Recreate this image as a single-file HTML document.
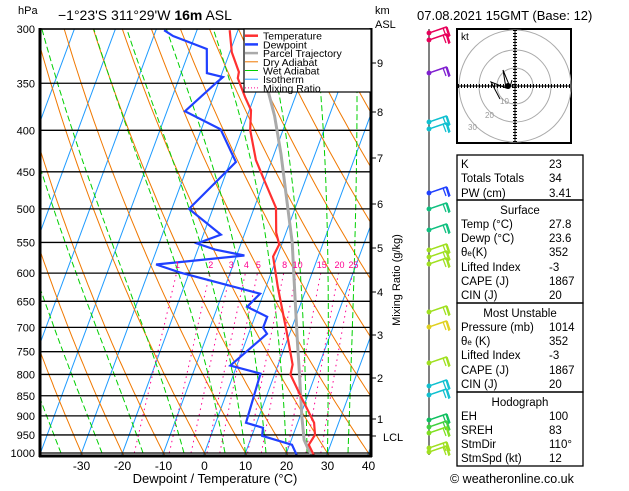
<!DOCTYPE html>
<html><head><meta charset="utf-8"><style>
body{margin:0;background:#fff;width:629px;height:486px;overflow:hidden;font-family:"Liberation Sans",sans-serif}
svg text{font-family:"Liberation Sans",sans-serif}
</style></head><body>
<svg id="c" width="629" height="486" xmlns="http://www.w3.org/2000/svg">
<defs><clipPath id="clip"><rect x="41" y="29" width="329" height="426"/></clipPath></defs>
<g id="bg" clip-path="url(#clip)"></g>
<g id="plines"></g>
<g id="series" clip-path="url(#clip)"></g>
<g id="axes"></g>
<g id="right"></g>
</svg>
<script>
// ---- data ----
const tempP=[301,320.5,339,344.9,364.1,377.8,399.8,435.2,463.2,498.4,534.8,553.2,572.4,624.2,707.2,778,800.5,852.8,917.8,949.5,977,1019];
const tempT=[-32,-29.5,-26,-25.7,-22.2,-19.6,-18,-13.9,-9.7,-4.7,-2.4,-0.6,-1,2.9,9,13.5,13.9,18.5,24,25.3,24.7,27.8];
const dewP=[301,306,317.5,340,343.9,349.8,378.9,398.8,437.7,500,537.9,551.7,561.2,570.8,585.6,599.1,636.2,660.3,679.3,700.9,712.9,780.2,798.1,917.8,930.9,952.2,977,1019];
const dewT=[-48,-45.3,-35.9,-33.7,-29.4,-30.6,-35.6,-25.3,-18.6,-25.8,-15.7,-20.7,-15.8,-8.1,-28.8,-22.2,-0.8,-2.8,3,3,4.5,-1.6,6.5,7.4,12,12.5,20.6,23.6];
const parcelP=[1019,993.7,963.3,900.4,800.5,728.6,635.3,550,475.8,428,384.1,358];
const parcelT=[27.8,25.3,23.1,20.4,16.1,12.6,7.6,2.4,-3.8,-8.3,-13.3,-17.1];
const pressureTicks=[300,350,400,450,500,550,600,650,700,750,800,850,900,950,1000];
const tempTicks=[-30,-20,-10,0,10,20,30,40];
const isotherms=[-80,-70,-60,-50,-40,-30,-20,-10,0,10,20,30,40];
const dryTheta=[-40,-30,-20,-10,0,10,20,30,40,50,60,70,80,90,100,110,120];
const wetTheta=[-35,-25,-15,-5,5,10,15,20,25,30,35];
const mixRatios=[1,2,3,4,5,8,10,15,20,25];
const kmLabels=[1,2,3,4,5,6,7,8,9];
const kmY=[419,378,335,292,248,204,158,112,63];

const NS='http://www.w3.org/2000/svg';
const X0=204.5,SC=4.1,SK=0.37,YB=453;
function py(p){return 29+424*Math.log(p/300)/Math.log(1000/300);}
function tx(T,p){return X0+SC*T+SK*(YB-py(p));}
function el(tag,attrs,parent){const e=document.createElementNS(NS,tag);for(const k in attrs)e.setAttribute(k,attrs[k]);parent.appendChild(e);return e;}
function poly(pts,stroke,w,dash,parent,name){
  const e=el('polyline',{points:pts.map(q=>tx(q[1],q[0]).toFixed(1)+','+py(q[0]).toFixed(1)).join(' '),fill:'none',stroke:stroke,'stroke-width':w},parent);
  if(dash)e.setAttribute('stroke-dasharray',dash);
  
  
  return e;}
const bg=document.getElementById('bg'),ser=document.getElementById('series'),ax=document.getElementById('axes'),pl=document.getElementById('plines'),rt=document.getElementById('right');
// isotherms
isotherms.forEach(T=>{poly([[1050,T],[290,T]],'#1e9bff',1,null,bg,'isotherm-line');});
// dry adiabats
dryTheta.forEach(th=>{const pts=[];for(let p=1050;p>=290;p-=10){pts.push([p,(th+273.15)*Math.pow(p/1000,0.286)-273.15]);}poly(pts,'#f07800',1,null,bg,'dry-adiabat');});
// wet adiabats
wetTheta.forEach(t0=>{const pts=[];let T=t0+273.15;
  let Td=T;for(let p=1000;p<1050;p+=5){}
  for(let p=1000;p>=290;p-=5){pts.push([p,T-273.15]);const es=6.112*Math.exp(17.67*(T-273.15)/(T-29.65));const rs=0.622*es/(p-es);
    const d=(287*T+2.5e6*rs)/(p*(1004+2.5e6*2.5e6*rs*0.622/(287*T*T)));T-=d*5;}
  poly(pts,'#00d000',1,'6,3',bg,'wet-adiabat');});
// mixing ratio
mixRatios.forEach(w=>{const pts=[];for(let p=1000;p>=600;p-=20){const e=w*p/(622+w);const l=Math.log(e/6.112);pts.push([p,243.5*l/(17.67-l)]);}
  poly(pts,'#ff0090',1,'1.5,4',bg,'mixing-ratio-line');
  const l=Math.log(w*600/(622+w)/6.112);const T=243.5*l/(17.67-l);
  const t=el('text',{x:tx(T,600)+1,y:py(600)-5,'font-size':9,fill:'#ff0090','text-anchor':'middle'},ax);t.textContent=w;
  });
// pressure lines & labels
pressureTicks.forEach(p=>{const y=py(p);const l=el('line',{x1:40,x2:371,y1:y,y2:y,stroke:'#000','stroke-width':1.3},pl);
  
  const t=el('text',{x:35,y:y+4,'font-size':11,'text-anchor':'end'},ax);t.textContent=p;
  });
// series
poly(parcelP.map((p,i)=>[p,parcelT[i]]),'#aaaaaa',3,null,ser,'parcel-trajectory');
poly(dewP.map((p,i)=>[p,dewT[i]]),'#2040ff',2.2,null,ser,'dewpoint-line');
poly(tempP.map((p,i)=>[p,tempT[i]]),'#ff3030',2.2,null,ser,'temperature-line');
// frame
[[40,28,40,457,3],[371,28,371,457,3],[39,456,372,456,3],[39,29,372,29,1.5]].forEach(a=>{const l=el('line',{x1:a[0],y1:a[1],x2:a[2],y2:a[3],stroke:'#000','stroke-width':a[4]},ax);
  });
tempTicks.forEach(T=>{const x=X0+SC*T;const t=el('text',{x:x,y:470,'font-size':12,'text-anchor':'middle'},ax);t.textContent=T;
  });
kmLabels.forEach((k,i)=>{const y=kmY[i];el('line',{x1:371,x2:376,y1:y,y2:y,stroke:'#000'},ax);
  const t=el('text',{x:377,y:y+4,'font-size':11},ax);t.textContent=k;});
el('line',{x1:371,x2:376,y1:436,y2:436,stroke:'#000'},ax);
// legend
const lg=el('g',{},ax);
el('rect',{x:244,y:29,width:127,height:63,fill:'#fff',stroke:'#000','stroke-width':1.2},lg);
const leg=[['Temperature','#ff3030',2.5,null],['Dewpoint','#2040ff',2.5,null],['Parcel Trajectory','#aaaaaa',2.5,null],['Dry Adiabat','#f07800',1,null],['Wet Adiabat','#00d000',1,null],['Isotherm','#1e9bff',1,null],['Mixing Ratio','#ff0090',1,'1,2']];
leg.forEach((e,i)=>{const y=35.7+i*8.7;const l=el('line',{x1:245,x2:258,y1:y,y2:y,stroke:e[1],'stroke-width':e[2]},lg);if(e[3])l.setAttribute('stroke-dasharray',e[3]);
  const t=el('text',{x:263,y:y+4,'font-size':10.5},lg);t.textContent=e[0];});
// wind barbs
const barbY=[33,40,73,122,129,193,209,230,250,257,264,312,327,363,386,395,420,427,433,448,452];
const barbC=['#e8005a','#e8005a','#8020d0','#10c0d0','#10c0d0','#2040ff','#10c080','#10c080','#a0e020','#a0e020','#a0e020','#a0e020','#e0d020','#a0e020','#10c0d0','#10c0d0','#10c060','#40d040','#80e020','#a0e020','#a0e020'];
el('line',{x1:429,x2:429,y1:29,y2:455,stroke:'#000','stroke-width':1},rt);
barbY.forEach((y,i)=>{const g=el('g',{stroke:barbC[i],'stroke-width':1.3,fill:'none'},rt);
  el('circle',{cx:429,cy:y,r:1.8,fill:barbC[i]},g);el('polyline',{points:`429,${y} 446,${y-6} 449,${y+4} M`,},g);el('line',{x1:429,y1:y,x2:447,y2:y-6},g);el('line',{x1:447,y1:y-6,x2:450,y2:y+3},g);el('line',{x1:443,y1:y-5,x2:446,y2:y+3},g);});
</script>
<!-- static text -->
<div style="position:absolute;left:0;top:0;width:629px;height:486px;pointer-events:none">
<svg width="629" height="486" style="position:absolute;left:0;top:0" xmlns="http://www.w3.org/2000/svg">
<text x="18" y="14" font-size="11">hPa</text>
<text x="58" y="20" font-size="14">−1°23'S  311°29'W  <tspan font-weight="bold">16m</tspan>  ASL</text>
<text x="375" y="14" font-size="11">km</text>
<text x="375" y="28" font-size="11">ASL</text>
<text x="383" y="441" font-size="11">LCL</text>
<text x="400" y="280" font-size="11" text-anchor="middle" transform="rotate(-90 400 280)">Mixing Ratio (g/kg)</text>
<text x="215" y="483" font-size="13" text-anchor="middle">Dewpoint / Temperature (°C)</text>
<text x="417" y="20" font-size="13">07.08.2021  15GMT  (Base: 12)</text>
<g>
<rect x="457" y="29" width="114" height="114" fill="#fff" stroke="#000" stroke-width="2"/>
<circle cx="515" cy="86" r="18" fill="none" stroke="#aaa"/>
<circle cx="515" cy="86" r="36" fill="none" stroke="#aaa"/>
<circle cx="515" cy="86" r="56" fill="none" stroke="#aaa"/>
<line x1="458" x2="570" y1="86" y2="86" stroke="#000"/>
<line x1="515" x2="515" y1="30" y2="142" stroke="#000" stroke-dasharray="1,2" stroke-width="4"/>
<line x1="458" x2="570" y1="86" y2="86" stroke="#000" stroke-dasharray="1,2" stroke-width="4"/>
<line x1="515" x2="515" y1="30" y2="142" stroke="#000"/>
<text x="461" y="40" font-size="10">kt</text>
<polyline points="500,99 491,82 506,88 503,70 510,87 512,80" fill="none" stroke="#000"/>
<circle cx="508" cy="86" r="3" fill="#000"/>
<text x="500" y="104" font-size="8" fill="#999">10</text><text x="485" y="118" font-size="8" fill="#999">20</text><text x="468" y="130" font-size="8" fill="#999">30</text>
</g>
<g font-size="11.5">
<rect x="457" y="155" width="126" height="45" fill="none" stroke="#000" stroke-width="1.3"/>
<rect x="457" y="200" width="126" height="103" fill="none" stroke="#000" stroke-width="1.3"/>
<rect x="457" y="303" width="126" height="89" fill="none" stroke="#000" stroke-width="1.3"/>
<rect x="457" y="392" width="126" height="74" fill="none" stroke="#000" stroke-width="1.3"/>
<text x="461" y="168">K</text><text x="549" y="168">23</text>
<text x="461" y="182">Totals Totals</text><text x="549" y="182">34</text>
<text x="461" y="197">PW (cm)</text><text x="549" y="197">3.41</text>
<text x="520" y="214" text-anchor="middle">Surface</text>
<text x="461" y="228">Temp (°C)</text><text x="549" y="228">27.8</text>
<text x="461" y="242">Dewp (°C)</text><text x="549" y="242">23.6</text>
<text x="461" y="256">θ<tspan font-size="8">e</tspan>(K)</text><text x="549" y="256">352</text>
<text x="461" y="271">Lifted Index</text><text x="549" y="271">-3</text>
<text x="461" y="285">CAPE (J)</text><text x="549" y="285">1867</text>
<text x="461" y="299">CIN (J)</text><text x="549" y="299">20</text>
<text x="520" y="317" text-anchor="middle">Most Unstable</text>
<text x="461" y="331">Pressure (mb)</text><text x="549" y="331">1014</text>
<text x="461" y="345">θ<tspan font-size="8">e</tspan> (K)</text><text x="549" y="345">352</text>
<text x="461" y="359">Lifted Index</text><text x="549" y="359">-3</text>
<text x="461" y="374">CAPE (J)</text><text x="549" y="374">1867</text>
<text x="461" y="388">CIN (J)</text><text x="549" y="388">20</text>
<text x="520" y="406" text-anchor="middle">Hodograph</text>
<text x="461" y="420">EH</text><text x="549" y="420">100</text>
<text x="461" y="434">SREH</text><text x="549" y="434">83</text>
<text x="461" y="448">StmDir</text><text x="549" y="448">110°</text>
<text x="461" y="462">StmSpd (kt)</text><text x="549" y="462">12</text>
</g>
<text x="450" y="483" font-size="12.5">© weatheronline.co.uk</text>
</svg></div>
</body></html>
